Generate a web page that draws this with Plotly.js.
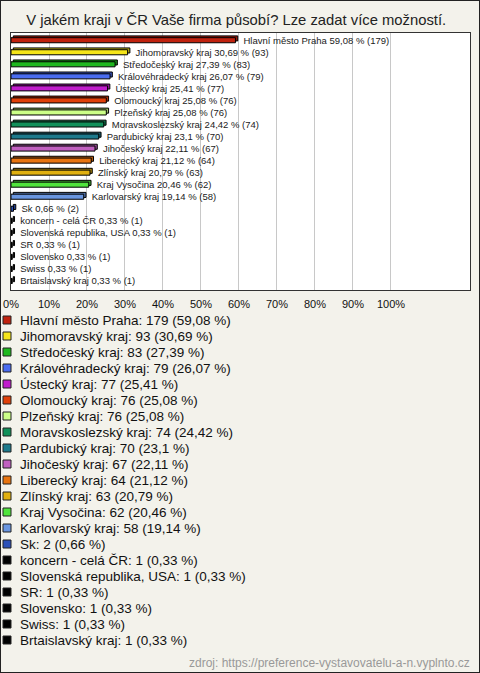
<!DOCTYPE html>
<html>
<head>
<meta charset="utf-8">
<script src="https://cdn.plot.ly/plotly-3.0.1.min.js"></script>
<style>
html,body{margin:0;padding:0;background:#f3f2eb;}
#wrap{position:relative;width:480px;height:673px;}
#chart{width:480px;height:673px;}
#frame{position:absolute;left:0;top:0;width:478px;height:671px;border:1px solid #222;pointer-events:none;}
</style>
</head>
<body>
<div id="wrap"><div id="chart"></div><div id="frame"></div></div>
<script>
const categories = ["Hlavní město Praha","Jihomoravský kraj","Středočeský kraj","Královéhradecký kraj","Ústecký kraj","Olomoucký kraj","Plzeňský kraj","Moravskoslezský kraj","Pardubický kraj","Jihočeský kraj","Liberecký kraj","Zlínský kraj","Kraj Vysočina","Karlovarský kraj","Sk","koncern - celá ČR","Slovenská republika, USA","SR","Slovensko","Swiss","Brtaislavský kraj"];
const counts = [179,93,83,79,77,76,76,74,70,67,64,63,62,58,2,1,1,1,1,1,1];
const percents = [59.08,30.69,27.39,26.07,25.41,25.08,25.08,24.42,23.1,22.11,21.12,20.79,20.46,19.14,0.66,0.33,0.33,0.33,0.33,0.33,0.33];
const colors = ["#c0220e","#f5e51a","#1fb81f","#4a6cf0","#c01ccc","#e0400a","#ccff88","#12905a","#1e7a8c","#c060c0","#e87410","#e0b010","#50e43c","#6a96e0","#2c50b8","#000000","#000000","#000000","#000000","#000000","#000000"];
const tickValues = [0,10,20,30,40,50,60,70,80,90,100];
const tickLabels = ["0%","10%","20%","30%","40%","50%","60%","70%","80%","90%","100%"];

function fmt(v){return String(v).replace('.',',');}
function darker(hex,f){
  const n=parseInt(hex.slice(1),16);
  const r=Math.round(((n>>16)&255)*f),g=Math.round(((n>>8)&255)*f),b=Math.round((n&255)*f);
  return 'rgb('+r+','+g+','+b+')';
}

const FONT='Liberation Sans, Arial, sans-serif';
const PL=11, PR=470, PT=33, PB=290;
const PW=PR-PL, PH=PB-PT;
const px2x=p=>(p-PL)/PW;
const px2y=p=>(PB-p)/PH;

const traces=[];
categories.forEach((c,i)=>{
  traces.push({type:'bar',orientation:'h',y:[c],x:[percents[i]],base:[0.6],
    width:0.42,offset:-0.36,marker:{color:darker(colors[i],0.75),line:{color:'#000',width:1}},
    showlegend:false,hoverinfo:'skip'});
});
categories.forEach((c,i)=>{
  traces.push({type:'bar',orientation:'h',y:[c],x:[percents[i]],
    width:0.42,offset:-0.21,
    marker:{color:colors[i],line:{color:'#000',width:1}},
    text:['\u00a0\u00a0\u00a0'+c+' '+fmt(percents[i])+' % ('+counts[i]+')'],
    textposition:'outside',constraintext:'none',cliponaxis:false,
    textfont:{family:FONT,size:9.5,color:'#222'},
    showlegend:false});
});

const annotations=[], shapes=[];
categories.forEach((c,i)=>{
  const yc=320+i*16;
  annotations.push({text:c+': '+counts[i]+' ('+fmt(percents[i])+' %)',xref:'paper',yref:'paper',
    x:px2x(20),xanchor:'left',y:px2y(yc),yanchor:'middle',showarrow:false,
    font:{family:FONT,size:13.5,color:'#111'},xshift:-2});
  shapes.push({type:'rect',xref:'paper',yref:'paper',x0:px2x(3),x1:px2x(11),
    y0:px2y(yc-4),y1:px2y(yc+4),fillcolor:colors[i],line:{color:'#222',width:1}});
});
annotations.push({text:'zdroj: https://preference-vystavovatelu-a-n.vyplnto.cz',xref:'paper',yref:'paper',
  x:px2x(472),xanchor:'right',y:px2y(663),yanchor:'middle',showarrow:false,
  font:{family:FONT,size:12,color:'#999'}});

const layout={
  width:480,height:673,
  paper_bgcolor:'#f3f2eb',plot_bgcolor:'#ffffff',
  margin:{l:PL,r:480-PR,t:PT,b:673-PB},
  barmode:'overlay',showlegend:false,
  title:{text:'V jakém kraji v ČR Vaše firma působí? Lze zadat více možností.',
    font:{family:FONT,size:14.8,color:'#222'},
    x:0.492,xanchor:'center',y:1-20/673,yanchor:'middle',yref:'container'},
  xaxis:{range:[0,120.8],tickmode:'array',tickvals:tickValues,ticktext:tickLabels,showgrid:true,gridcolor:'#c8c8c8',gridwidth:1,
    zeroline:false,showline:true,mirror:true,linecolor:'#333',linewidth:1,ticks:'',ticklabelstandoff:4,
    tickfont:{family:FONT,size:11,color:'#111'},fixedrange:true},
  yaxis:{type:'category',categoryorder:'array',categoryarray:categories,range:[20.75,-0.6],
    showticklabels:false,showgrid:false,zeroline:false,showline:true,mirror:true,linecolor:'#333',linewidth:1,ticks:''},
  annotations:annotations,shapes:shapes
};
Plotly.newPlot('chart',traces,layout,{staticPlot:true,displayModeBar:false});
</script>
</body>
</html>
